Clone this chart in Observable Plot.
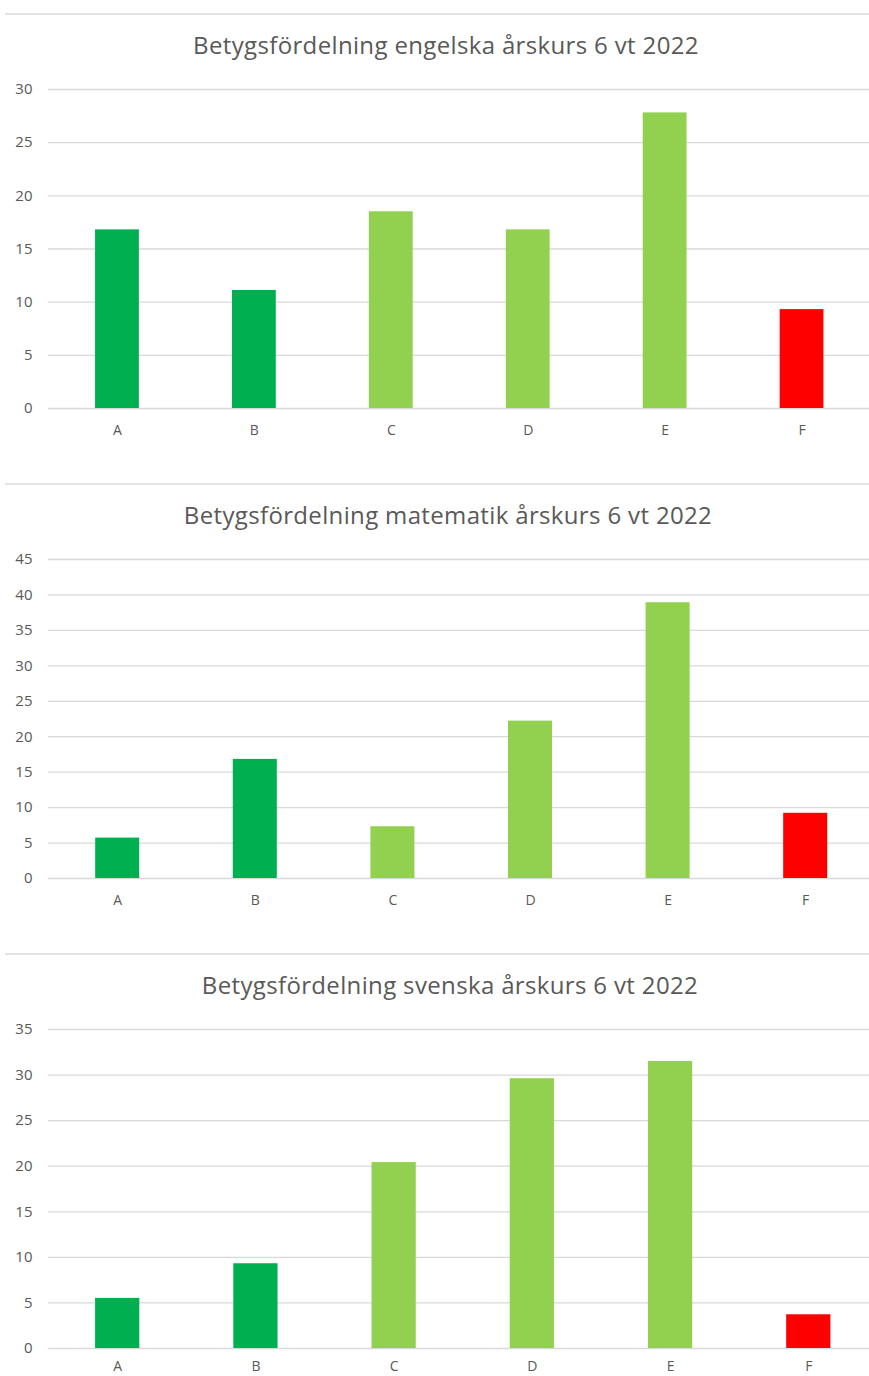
<!DOCTYPE html>
<html><head><meta charset="utf-8">
<script src="https://cdn.jsdelivr.net/npm/d3@7"></script>
<script src="https://cdn.jsdelivr.net/npm/@observablehq/plot@0.6"></script>
<style>
body{margin:0;background:#fff;font-family:"Open Sans",sans-serif;}
.panel{position:relative;width:869px;height:470px;overflow:hidden;}
.sep{position:absolute;top:13px;left:5px;right:0;height:2px;background:#e3e3e3;}
.title{position:absolute;top:28px;left:0;text-align:center;font-size:24px;letter-spacing:0.35px;color:#595959;white-space:nowrap;line-height:normal;}
.panel svg{position:absolute;top:70px;left:0;}
</style></head><body><div id="root"></div>
<script>
const grades = ["A", "B", "C", "D", "E", "F"];
const gradeColors = ["#00B050", "#00B050", "#92D050", "#92D050", "#92D050", "#FF0000"];
const engelska = [16.8, 11.1, 18.5, 16.8, 27.8, 9.3];
const matematik = [5.7, 16.8, 7.3, 22.2, 38.9, 9.2];
const svenska = [5.5, 9.3, 20.4, 29.6, 31.5, 3.7];
const titles = [
  "Betygsfördelning engelska årskurs 6 vt 2022",
  "Betygsfördelning matematik årskurs 6 vt 2022",
  "Betygsfördelning svenska årskurs 6 vt 2022"
];
const yMaxes = [30, 45, 35];
const tickStep = 5;

const series = [engelska, matematik, svenska];
const xRanges = [[48.5, 870], [48.4, 874], [48.1, 877.4]];
const titleCenters = [446, 448, 450];
const xLabelPads = [17, 17, 13];

const root = document.getElementById("root");
series.forEach((vals, i) => {
  const data = grades.map((g, j) => ({grade: g, value: vals[j], color: gradeColors[j]}));
  const ticks = d3.range(0, yMaxes[i] + 0.001, tickStep);
  const panel = document.createElement("div");
  panel.className = "panel";
  const sep = document.createElement("div");
  sep.className = "sep";
  panel.appendChild(sep);
  const t = document.createElement("div");
  t.className = "title";
  t.textContent = titles[i];
  t.style.width = (titleCenters[i] * 2) + "px";
  panel.appendChild(t);
  const chart = Plot.plot({
    width: 869,
    height: 380,
    marginTop: 19,
    marginBottom: 42,
    marginLeft: 48,
    marginRight: 0,
    style: {fontFamily: "Open Sans, sans-serif", color: "#595959", background: "transparent"},
    x: {domain: grades, range: xRanges[i], paddingInner: 0.68, paddingOuter: 0.34, round: false, label: null},
    y: {domain: [0, yMaxes[i]], label: null},
    marks: [
      Plot.ruleY(ticks, {stroke: "#d9d9d9", strokeWidth: 1.3}),
      Plot.barY(data, {x: "grade", y: "value", fill: "color"}),
      Plot.axisY({ticks: ticks, tickSize: 0, tickPadding: 16, label: null, fill: "#595959", fontSize: 15}),
      Plot.axisX({tickSize: 0, tickPadding: xLabelPads[i], label: null, fill: "#595959", fontSize: 14})
    ]
  });
  panel.appendChild(chart);
  root.appendChild(panel);
});
</script>
</body></html>
